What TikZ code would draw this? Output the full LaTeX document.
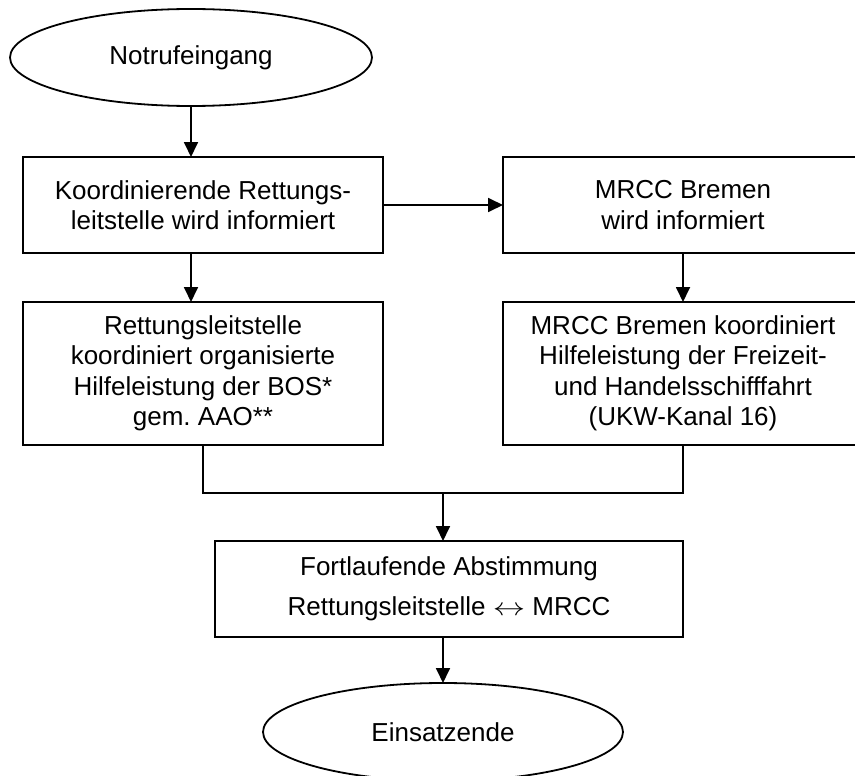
\documentclass[tikz,border=0pt]{standalone}
\usepackage{fontspec}
\usepackage{graphicx}
\setmainfont{Liberation Sans}
\usetikzlibrary{arrows.meta,shapes.geometric}
\frenchspacing
\begin{document}
\begin{tikzpicture}[x=1pt,y=-1pt,
  every node/.style={inner sep=0pt,outer sep=0pt,align=center,
    font=\fontsize{26}{30.5}\selectfont},
  flowbox/.style={draw,line width=1.8pt,rectangle},
  term/.style={draw,line width=1.8pt,ellipse},
  conn/.style={line width=1.8pt},
  arr/.style={conn,-{Triangle[length=15pt,width=14pt]}}]
\useasboundingbox (0,0) rectangle (855,776);
\clip (0,0) rectangle (855,776);
\node[term,minimum width=362pt,minimum height=97pt] (e1) at (191,57.5) {Notrufeingang};
\node[flowbox,minimum width=360pt,minimum height=96pt] (b1) at (203,205) {Koordinierende Rettungs-\\leitstelle wird informiert};
\node[flowbox,minimum width=360pt,minimum height=96pt] (b2) at (683,205) {MRCC Bremen\\wird informiert};
\node[flowbox,minimum width=360pt,minimum height=143pt] (b3) at (203,373.5) {Rettungsleitstelle\\koordiniert organisierte\\Hilfeleistung der BOS*\\gem.\ AAO**};
\node[flowbox,minimum width=360pt,minimum height=143pt] (b4) at (683,373.5) {MRCC Bremen koordiniert\\Hilfeleistung der Freizeit-\\und Handelsschifffahrt\\(UKW-Kanal 16)};
\node[flowbox,minimum width=468pt,minimum height=96pt,font=\fontsize{26}{40}\selectfont] (b5) at (449,589) {Fortlaufende Abstimmung\\Rettungsleitstelle \scalebox{1.3}[1]{$\leftrightarrow$} MRCC};
\node[term,minimum width=360pt,minimum height=98pt] (e2) at (443,732) {Einsatzende};
\coordinate (jl) at (203,493);
\coordinate (jr) at (683,493);
\coordinate (jm) at (443,493);
\draw[arr] (e1.south) -- (e1.south |- b1.north);
\draw[arr] (b1.east |- b2.west) -- (b2.west);
\draw[arr] (b1.south -| e1.south) -- (b3.north -| e1.south);
\draw[arr] (b2.south) -- (b4.north);
\draw[conn] (b3.south) -- (jl) -- (jr) -- (b4.south);
\draw[arr] (jm) -- (jm |- b5.north);
\draw[arr] (b5.south -| jm) -- (e2.north);
\end{tikzpicture}
\end{document}
